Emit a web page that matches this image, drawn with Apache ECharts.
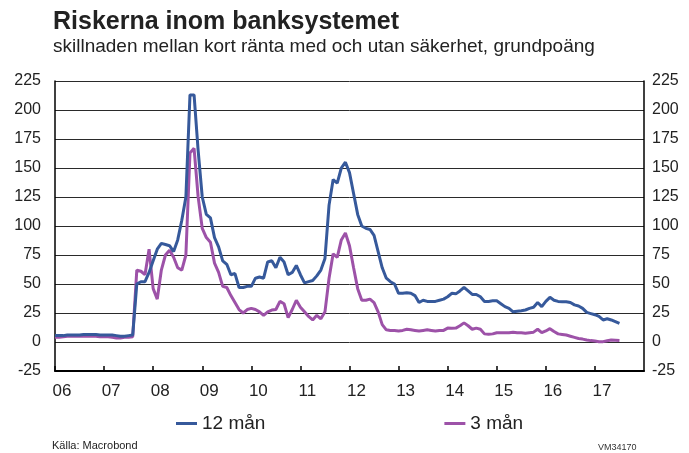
<!DOCTYPE html>
<html>
<head>
<meta charset="utf-8">
<script src="https://cdn.jsdelivr.net/npm/echarts@6/dist/echarts.min.js"></script>
<style>html,body{margin:0;padding:0;background:#fff;}#c{width:689px;height:453px;}</style>
</head>
<body>
<div id="c"></div>
<script>
// Monthly observations, January 2006 onwards
var startYear = 2006;
var rate12 = [
  5.5,5.5,5.5,6,6,6,6,6.5,6.5,6.5,6.5,6,6,6,6,5.5,5,5,5.5,6,
  50,52,52,60,70,80,85,84,83,78,88,105,125,213,213,165,125,110,107,90,
  82,70,67,58,59,47,47,48,48,55,56,55,69,70,64,73,69,58,60,66,
  58,51,52,53,57,62,72,118,140,137,150,155,146,128,110,100,98,97,92,78,
  64,55,52,50,42,42,42.5,42,40,34,36,35,35,35,36,37,39,42,41.5,44,
  47,44,41,41,39,35,35,35.5,35.5,33,30.5,29,26,26.5,27,27.6,29,30,34,30.5,
  35,38.5,36,35,34.7,34.7,34,32,31,29,25.5,24.5,23.5,22,19,20,19,17.5,16
];
var rate3 = [
  4,4,4.5,5,5,5,5,5,5,5,5,4.5,4.5,4.5,4,3.5,3.5,4,4,4.5,
  62,61,58,80,46,37,62,75,79,73,64,62,75,163,167,125,98,90,86,68,
  60,48,47,40,34,28,25,28,29,28,26,23,26,27.5,28,35,33,21,28,36,
  30,26,22,19,23,20,26,55,76,73,88,94,83,64,46,36,36,37,34,26,
  15,10.5,10,10,9.5,10,11,10.5,10,9.5,10,10.5,10,9.5,10,10,12,11.8,12,14,
  16.5,14,11,12,11,7,6.6,7,8,8,8,8,8.5,8,8,7.5,8,8.5,11,8,
  9.5,11.5,9,7,6.5,6,5,4,3,2.5,1.8,1.2,0.8,0.3,0.3,1,1.7,1.5,1.2
];
var seriesNames = ['12 mån', '3 mån'];
var yTicks = [-25, 0, 25, 50, 75, 100, 125, 150, 175, 200, 225];

function toPairs(arr) {
  return arr.map(function (v, i) { return [startYear + i / 12, v]; });
}

var chart = echarts.init(document.getElementById('c'));
var font = 'Liberation Sans, Arial, sans-serif';
var yAxisBase = {
  type: 'value', min: yTicks[0], max: yTicks[yTicks.length - 1], interval: 25,
  axisLine: { show: true, lineStyle: { color: '#000', width: 1.5 } },
  axisTick: { show: false },
  axisLabel: { fontSize: 16, color: '#222', fontFamily: font }
};
chart.setOption({
  animation: false,
  backgroundColor: '#fff',
  title: {
    text: 'Riskerna inom banksystemet',
    subtext: 'skillnaden mellan kort ränta med och utan säkerhet, grundpoäng',
    left: 48, top: 5, itemGap: 2,
    textStyle: { fontSize: 25, fontWeight: 'bold', color: '#222', fontFamily: font },
    subtextStyle: { fontSize: 19, color: '#222', fontFamily: font }
  },
  legend: {
    left: 171, top: 409, itemGap: 179, itemWidth: 21, itemHeight: 3, icon: 'rect',
    data: seriesNames,
    textStyle: { fontSize: 19, color: '#222', fontFamily: font }
  },
  grid: { left: 55, right: 45, top: 81, bottom: 82 },
  xAxis: {
    type: 'value', min: startYear, max: 2018, interval: 1,
    axisLine: { show: true, onZero: false, lineStyle: { color: '#000', width: 2 } },
    axisTick: { show: true, inside: true, length: 5, lineStyle: { color: '#000', width: 1.5 } },
    splitLine: { show: false },
    axisLabel: {
      fontSize: 17, color: '#222', fontFamily: font, margin: 12,
      padding: [0, 0, 0, 14], showMaxLabel: false,
      formatter: function (v) { return String(Math.round(v)).slice(2); }
    }
  },
  yAxis: [
    Object.assign({}, yAxisBase, {
      position: 'left',
      splitLine: { show: true, lineStyle: { color: '#2a2a2a', width: 1 } },
      axisLabel: Object.assign({}, yAxisBase.axisLabel, { margin: 14 })
    }),
    Object.assign({}, yAxisBase, {
      position: 'right',
      splitLine: { show: false },
      axisLabel: Object.assign({}, yAxisBase.axisLabel, { margin: 8 })
    })
  ],
  series: [
    {
      name: seriesNames[0], type: 'line', symbol: 'none', yAxisIndex: 0,
      data: toPairs(rate12), z: 3,
      lineStyle: { color: '#36599b', width: 3 }, itemStyle: { color: '#36599b' }
    },
    {
      name: seriesNames[1], type: 'line', symbol: 'none', yAxisIndex: 0,
      data: toPairs(rate3), z: 2,
      lineStyle: { color: '#9d52a8', width: 3 }, itemStyle: { color: '#9d52a8' }
    }
  ],
  graphic: [
    { type: 'text', left: 52, top: 440, style: { text: 'Källa: Macrobond', fontSize: 11, fill: '#222', fontFamily: font } },
    { type: 'text', left: 598, top: 443, style: { text: 'VM34170', fontSize: 9, fill: '#333', fontFamily: font } }
  ]
});
</script>
</body>
</html>
